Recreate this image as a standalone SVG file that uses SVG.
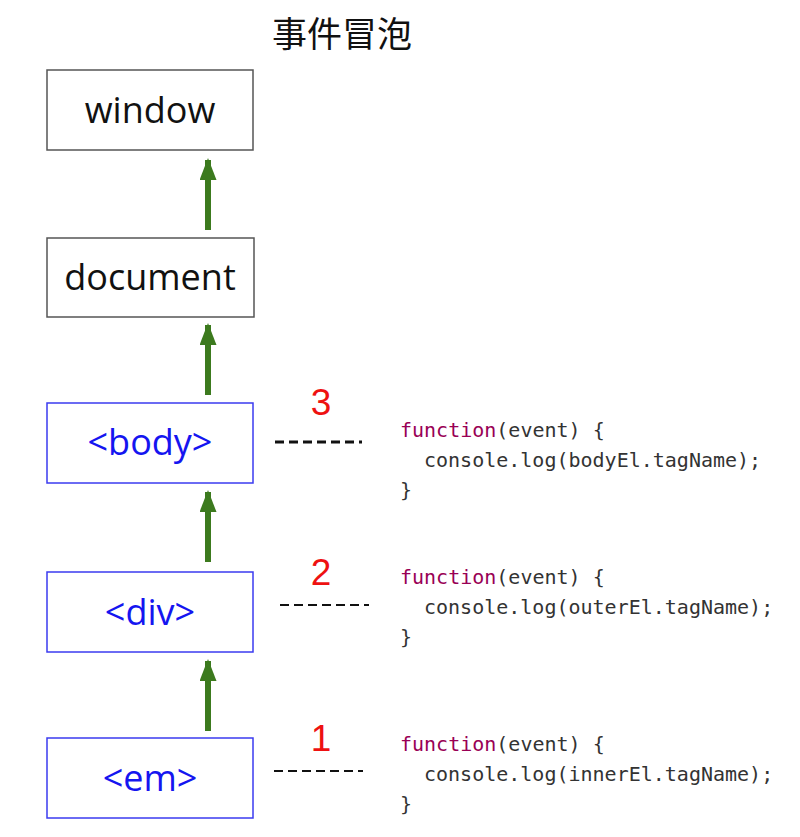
<svg xmlns="http://www.w3.org/2000/svg" width="800" height="837" viewBox="0 0 800 837">
<style>
  .box { fill: #ffffff; stroke: #555555; stroke-width: 1.5; }
  .box.dom { stroke: #3b3bf0; }
  .lbl { font-family: "Open Sans", "DejaVu Sans", sans-serif; font-size: 36px; text-anchor: middle; fill: #111111; }
  .lbl.dom { fill: #1515f0; }
  .title { font-family: "Noto Sans CJK SC", "Noto Sans", sans-serif; font-size: 35px; text-anchor: middle; fill: #111111; }
  .num { font-family: "Liberation Sans", "Arial", sans-serif; font-size: 37px; text-anchor: middle; fill: #ee1111; }
  .code { font-family: "DejaVu Sans Mono", "Liberation Mono", monospace; font-size: 20px; fill: #333333; }
  .kw { fill: #990055; }
  .arrow { stroke: #3c7a1e; stroke-width: 6; fill: none; marker-end: url(#ah); }
  .dash { stroke: #111111; stroke-width: 2; stroke-dasharray: 9 5; fill: none; }
  .dash.thick { stroke-width: 3; }
</style>
<defs>
  <marker id="ah" markerUnits="userSpaceOnUse" markerWidth="22" markerHeight="17" refX="20" refY="8.5" orient="auto" viewBox="0 0 22 17">
    <path d="M0,0 L22,8.5 L0,17 Z" fill="#3c7a1e"/>
  </marker>
</defs>

<text class="title" x="342" y="47">事件冒泡</text>

<g id="window">
  <rect class="box" x="47" y="70" width="206" height="80"/>
  <text class="lbl" x="150" y="123">window</text>
</g>
<g id="document">
  <rect class="box" x="47" y="238" width="207" height="79"/>
  <text class="lbl" x="150" y="290">document</text>
</g>
<g id="body">
  <rect class="box dom" x="47" y="403" width="206" height="80"/>
  <text class="lbl dom" x="150" y="455">&lt;body&gt;</text>
</g>
<g id="div">
  <rect class="box dom" x="47" y="572" width="206" height="80"/>
  <text class="lbl dom" x="150" y="625">&lt;div&gt;</text>
</g>
<g id="em">
  <rect class="box dom" x="47" y="738" width="206" height="80"/>
  <text class="lbl dom" x="150" y="791">&lt;em&gt;</text>
</g>

<g id="connectors">
  <path class="arrow" d="M208,230 L208,160"/>
  <path class="arrow" d="M208,395 L208,325"/>
  <path class="arrow" d="M208,562 L208,492"/>
  <path class="arrow" d="M208,731 L208,661"/>
  <path class="dash thick" d="M275,442 L362,442"/>
  <path class="dash" d="M280,605 L369,605"/>
  <path class="dash" d="M274,771 L363,771"/>
</g>

<g id="handler3">
  <text class="num" x="321" y="415">3</text>
  <text class="code" x="400" y="437"><tspan class="kw">function</tspan>(event) {</text>
  <text class="code" x="424" y="467">console.log(bodyEl.tagName);</text>
  <text class="code" x="400" y="497">}</text>
</g>
<g id="handler2">
  <text class="num" x="321" y="585">2</text>
  <text class="code" x="400" y="584"><tspan class="kw">function</tspan>(event) {</text>
  <text class="code" x="424" y="614">console.log(outerEl.tagName);</text>
  <text class="code" x="400" y="644">}</text>
</g>
<g id="handler1">
  <text class="num" x="321" y="751">1</text>
  <text class="code" x="400" y="751"><tspan class="kw">function</tspan>(event) {</text>
  <text class="code" x="424" y="781">console.log(innerEl.tagName);</text>
  <text class="code" x="400" y="811">}</text>
</g>
</svg>
